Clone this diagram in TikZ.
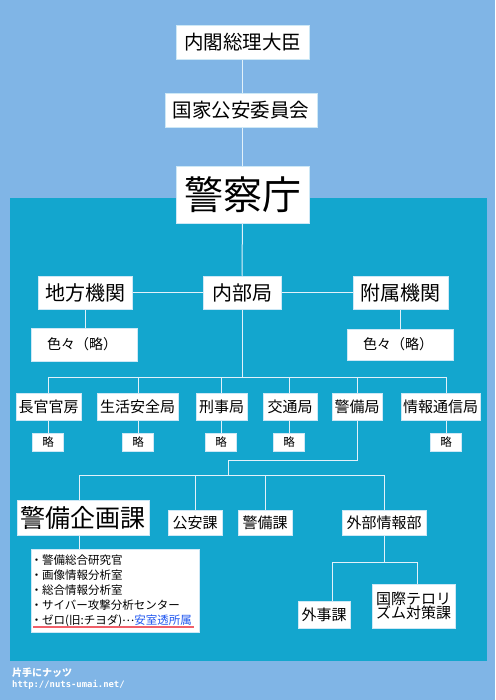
\documentclass[tikz,border=0pt]{standalone}
\usepackage{fontspec}
\setmainfont{Noto Sans CJK JP}
\newfontfamily\urlfont{DejaVu Sans Mono}
\usetikzlibrary{calc}
\pgfdeclarelayer{back}\pgfdeclarelayer{mid}\pgfsetlayers{back,mid,main}
\definecolor{bgblue}{RGB}{128,181,230}
\definecolor{panelblue}{RGB}{19,166,206}
\definecolor{connc}{RGB}{226,241,250}
\definecolor{boxline}{RGB}{205,232,246}
\definecolor{linkblue}{RGB}{30,85,240}
\definecolor{redline}{RGB}{240,95,105}
\newcommand\lbul{\makebox[11pt][c]{・}}
\begin{document}
\begin{tikzpicture}[x=1pt,y=-1pt,
  box/.style={fill=white,draw=boxline,line width=0.5pt,inner sep=0pt,text=black,align=center},
  conn/.style={draw=connc,line width=1pt},
  fA/.style={font=\fontsize{19.5}{21}\selectfont},
  fB/.style={font=\fontsize{39}{40}\selectfont},
  fC/.style={font=\fontsize{20}{22}\selectfont},
  fD/.style={font=\fontsize{14}{15}\selectfont},
  fE/.style={font=\fontsize{15}{14}\selectfont},
  fR/.style={font=\fontsize{11.5}{12}\selectfont},
  fK/.style={font=\fontsize{25}{26}\selectfont}]
\useasboundingbox (0,0) rectangle (495,700);
\begin{pgfonlayer}{back}
\fill[bgblue] (0,0) rectangle (495,700);
\fill[panelblue] (10,198) rectangle (487,661);
\end{pgfonlayer}
% top chain
\node[box,fA,minimum width=133,minimum height=34] (pm) at (242.5,42) {内閣総理大臣};
\node[box,fA,minimum width=152,minimum height=34] (nsc) at (241,110) {国家公安委員会};
\node[box,fB,minimum width=133,minimum height=57] (npa) at (242.5,194.5) {警察庁};
% second level
\node[box,fC,minimum width=94,minimum height=33] (chiho) at (85,292.5) {地方機関};
\node[box,fC,minimum width=78,minimum height=33] (naibu) at (242,292.5) {内部局};
\node[box,fC,minimum width=95,minimum height=33] (fuzoku) at (400.5,292.5) {附属機関};
\node[box,fD,minimum width=106,minimum height=33] (iroL) at (84,344.5) {色々（略）\hspace{4pt}};
\node[box,fD,minimum width=106,minimum height=31] (iroR) at (400,344.5) {色々（略）\hspace{4pt}};
% bureaus
\node[box,fE,minimum width=65,minimum height=27] (chokan) at (48.5,406.5) {長官官房};
\node[box,fE,minimum width=81,minimum height=27] (seikatsu) at (137.5,406.5) {生活安全局};
\node[box,fE,minimum width=51,minimum height=27] (keiji) at (221.5,406.5) {刑事局};
\node[box,fE,minimum width=54,minimum height=27] (kotsu) at (290,406.5) {交通局};
\node[box,fE,minimum width=50,minimum height=27] (keibi) at (357,406.5) {警備局};
\node[box,fE,minimum width=79,minimum height=27] (joho) at (440.5,406.5) {情報通信局};
\node[box,fR,minimum width=31,minimum height=18] (r1) at (48,442) {略};
\node[box,fR,minimum width=31,minimum height=18] (r2) at (138,442) {略};
\node[box,fR,minimum width=31,minimum height=18] (r3) at (221,442) {略};
\node[box,fR,minimum width=31,minimum height=18] (r4) at (289,442) {略};
\node[box,fR,minimum width=31,minimum height=18] (r5) at (446,442) {略};
% divisions
\node[box,fK,minimum width=132,minimum height=35] (kikaku) at (83,517.5) {警備企画課};
\node[box,fE,minimum width=54,minimum height=25] (koan) at (195,522.5) {公安課};
\node[box,fE,minimum width=54,minimum height=25] (keibika) at (265,522.5) {警備課};
\node[box,fE,minimum width=84,minimum height=25] (gaibu) at (384,522.5) {外部情報部};
\node[box,minimum width=168,minimum height=83,anchor=north west] (list) at (31,549) {};
\node[anchor=west,align=left,inner sep=0pt,font=\fontsize{11.5}{15}\selectfont] (listtxt) at (list.west)
 {\lbul 警備総合研究官\\ \lbul 画像情報分析室\\ \lbul 総合情報分析室\\ \lbul サイバー攻撃分析センター\\ \lbul ゼロ(旧:チヨダ)\raisebox{3pt}{…}\textcolor{linkblue}{\underline{安室透所属}}};
\node[box,fE,minimum width=52,minimum height=27] (gaiji) at (324,614.5) {外事課};
\node[box,fE,minimum width=83,minimum height=44] (kokusai) at (413.5,606) {国際テロリ\\ズム対策課};
% watermark
\node[anchor=west,inner sep=0pt,text=white,font=\bfseries\fontsize{10}{11}\selectfont] (wm1) at (12,673) {片手にナッツ};
\node[anchor=west,inner sep=0pt,text=white,font=\urlfont\bfseries\fontsize{8.9}{10}\selectfont] (wm2) at (12,685) {http://nuts-umai.net/};
% connectors
\coordinate (hubA) at (242,377);
\coordinate (hubB) at (228,460);
\coordinate (hubC) at (228,475);
\coordinate (kx) at (79,475);
\coordinate (hubD) at (384,562);
\coordinate (gx1) at (332,562);
\coordinate (gx2) at (417,562);
\begin{pgfonlayer}{mid}
\draw[conn] (pm) -- (npa);
\draw[conn] (npa) -- (naibu);
\draw[conn] (chiho) -- (fuzoku);
\draw[conn] (chiho.south) -- (chiho.south |- iroL.north);
\draw[conn] (fuzoku.south) -- (fuzoku.south |- iroR.north);
\draw[conn] (naibu.south) -- (hubA);
\draw[conn] (r1 |- hubA) -- (r5 |- hubA);
\foreach \n in {r1,r2,r3,r4,r5} \draw[conn] (\n |- hubA) -- (\n);
\draw[conn] (keibi.north |- hubA) -- (keibi.north |- hubB) -- (hubB) -- (hubC);
\draw[conn] (kx) -- (gaibu.north |- hubC);
\draw[conn] (kx) -- (kx |- list.north);
\draw[conn] (koan.north |- hubC) -- (koan.north);
\draw[conn] (keibika.north |- hubC) -- (keibika.north);
\draw[conn] (gaibu.north |- hubC) -- (gaibu.north);
\draw[conn] (gaibu.south) -- (hubD);
\draw[conn] (gx1) -- (gx2);
\draw[conn] (gx1) -- (gx1 |- gaiji.north);
\draw[conn] (gx2) -- (gx2 |- kokusai.north);
\end{pgfonlayer}
\path (list.south west) ++(2,-6) coordinate (ru1) (list.south east) ++(-6,-6) coordinate (ru2);
\draw[redline,line width=2pt] (ru1) -- (ru2);
\end{tikzpicture}
\end{document}
